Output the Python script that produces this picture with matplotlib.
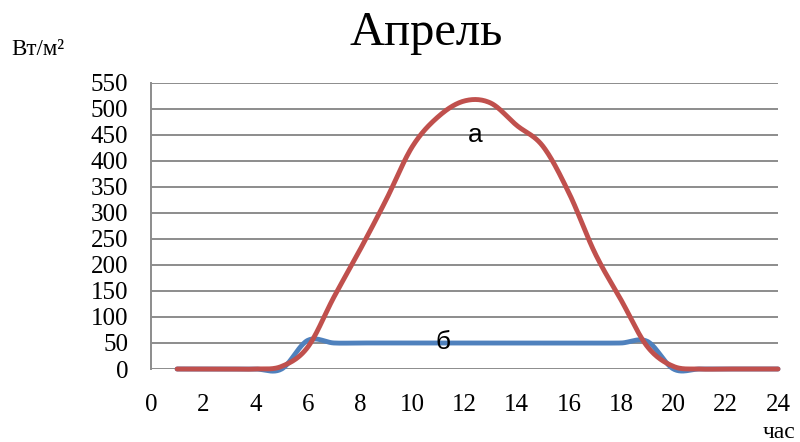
import numpy as np
import matplotlib
matplotlib.use("Agg")
import matplotlib.pyplot as plt

# Hourly solar irradiance for April, W/m^2
hours = list(range(1, 25))
total_a = [0, 0, 0, 0, 5, 42, 138, 229, 325, 427, 485, 515,
           511, 468, 428, 338, 222, 132, 43, 5, 0, 0, 0, 0]
diffuse_b = [0, 0, 0, 0, 0, 55, 50, 50, 50, 50, 50, 50,
             50, 50, 50, 50, 50, 50, 53, 0, 0, 0, 0, 0]

x_ticks = list(range(0, 25, 2))
y_ticks = list(range(0, 551, 50))

title = "Апрель"
y_unit = "Вт/м²"
x_unit = "час"
label_a = "а"
label_b = "б"


def smooth(xs, ys, steps=24):
    """Catmull-Rom style smoothing through every point (as spreadsheet 'smoothed line')."""
    xs = np.asarray(xs, float)
    ys = np.asarray(ys, float)
    px = np.concatenate([[xs[0]], xs, [xs[-1]]])
    py = np.concatenate([[ys[0]], ys, [ys[-1]]])
    t = np.linspace(0, 1, steps, endpoint=False)
    out_x, out_y = [], []
    for i in range(1, len(px) - 2):
        p0 = np.array([px[i - 1], py[i - 1]])
        p1 = np.array([px[i], py[i]])
        p2 = np.array([px[i + 1], py[i + 1]])
        p3 = np.array([px[i + 2], py[i + 2]])
        c1 = p1 + (p2 - p0) / 6.0
        c2 = p2 - (p3 - p1) / 6.0
        for tt in t:
            b = ((1 - tt) ** 3) * p1 + 3 * ((1 - tt) ** 2) * tt * c1 \
                + 3 * (1 - tt) * tt ** 2 * c2 + tt ** 3 * p2
            out_x.append(b[0])
            out_y.append(b[1])
    out_x.append(xs[-1])
    out_y.append(ys[-1])
    return np.array(out_x), np.array(out_y)


serif = "Liberation Serif"
fig = plt.figure(figsize=(8.0, 4.42), dpi=100)
ax = fig.add_axes([151 / 800, 1 - 369 / 442, 627 / 800, (369 - 82.7) / 442])

ax.set_xlim(0, 24)
ax.set_ylim(0, 550)
ax.set_xticks(x_ticks)
ax.set_yticks(y_ticks)
ax.tick_params(length=0, labelsize=18)
ax.tick_params(axis="y", pad=16.5)
ax.tick_params(axis="x", pad=18)
for lab in ax.get_xticklabels() + ax.get_yticklabels():
    lab.set_fontfamily(serif)

grid_color = "#8c8c8c"
ax.yaxis.grid(True, color=grid_color, linewidth=1.4)
ax.set_axisbelow(True)
for side in ("top", "right", "bottom"):
    ax.spines[side].set_visible(False)
ax.spines["left"].set_color(grid_color)
ax.spines["left"].set_linewidth(1.4)

bx, by = smooth(hours, diffuse_b)
ax.plot(bx, by, color="#4F81BD", linewidth=3.5, solid_capstyle="round", clip_on=False)
rx, ry = smooth(hours, total_a)
ax.plot(rx, ry, color="#C0504D", linewidth=3.5, solid_capstyle="round", clip_on=False)

ax.text(12.40, 437, label_a, fontsize=19, family="Liberation Sans",
        ha="center", va="baseline")
ax.text(11.18, 38, label_b, fontsize=19, family="Liberation Sans",
        ha="center", va="baseline")

fig.text(426 / 800, 1 - 45 / 442, title, fontsize=35, family=serif,
         ha="center", va="baseline")
fig.text(11 / 800, 1 - 55 / 442, y_unit, fontsize=16.5, family=serif,
         ha="left", va="baseline")
fig.text(763 / 800, 1 - 438 / 442, x_unit, fontsize=17, family=serif,
         ha="left", va="baseline")

fig.savefig("out.png", dpi=100)
